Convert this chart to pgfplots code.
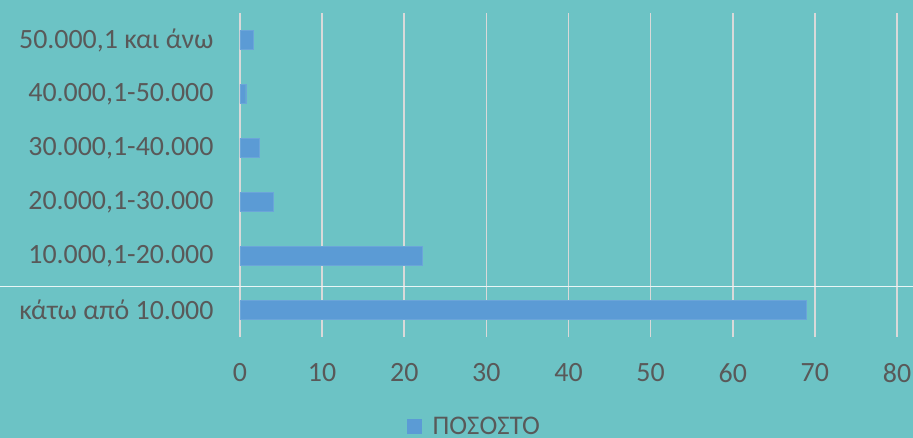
\documentclass[border=0pt]{standalone}
\usepackage{fontspec}
\setmainfont{Carlito}
\usepackage{pgfplots}
\pgfplotsset{compat=1.18}
\definecolor{bgteal}{HTML}{6CC3C5}
\definecolor{barblue}{HTML}{5B9BD5}
\definecolor{gridgray}{HTML}{D9D9D9}
\definecolor{txtgray}{HTML}{595959}
\begin{document}
\begin{tikzpicture}
    \fill[bgteal] (-240bp,-101bp) rectangle (673bp,337bp);
    \begin{axis}[
        at={(0,0)}, anchor=south west,
        scale only axis,
        width=657bp,
        height=324bp,
        xbar,
        bar width=19bp,
        xmin=0, xmax=80,
        ymin=-0.5, ymax=5.5,
        xtick={0,10,...,80},
        ytick={0,1,2,3,4,5},
        yticklabels={κάτω από 10.000, 10.000{,}1-20.000, 20.000{,}1-30.000,
                     30.000{,}1-40.000, 40.000{,}1-50.000, 50.000{,}1 και άνω},
        axis line style={draw=none},
        major tick length=0pt,
        xmajorgrids,
        grid style={gridgray, line width=1.6bp},
        ticklabel style={font=\fontsize{28}{31}\selectfont, text=txtgray},
        /pgf/number format/assume math mode=true,
        xticklabel style={yshift=-23bp},
        yticklabel style={xshift=-23bp},
        legend style={at={(0.357,-0.275)}, anchor=center, draw=none, fill=none,
                      font=\fontsize{27}{30}\selectfont, text=txtgray},
    ]
        \addplot[fill=barblue, draw=barblue!90!white,
            legend image code/.code={\fill[barblue] (0bp,-7bp) rectangle (14bp,7bp);}]
            coordinates {
            (68.9,0) (22.2,1) (4.0,2) (2.3,3) (0.7,4) (1.6,5)
        };
        \addlegendentry{\hspace{9bp}ΠΟΣΟΣΤΟ}
    \end{axis}
    \draw[white!85!bgteal, line width=1bp] (-240bp,50bp) -- (673bp,50bp);
    \pgfresetboundingbox
    \path[use as bounding box] (-240bp,-101bp) rectangle (673bp,337bp);
\end{tikzpicture}
\end{document}
